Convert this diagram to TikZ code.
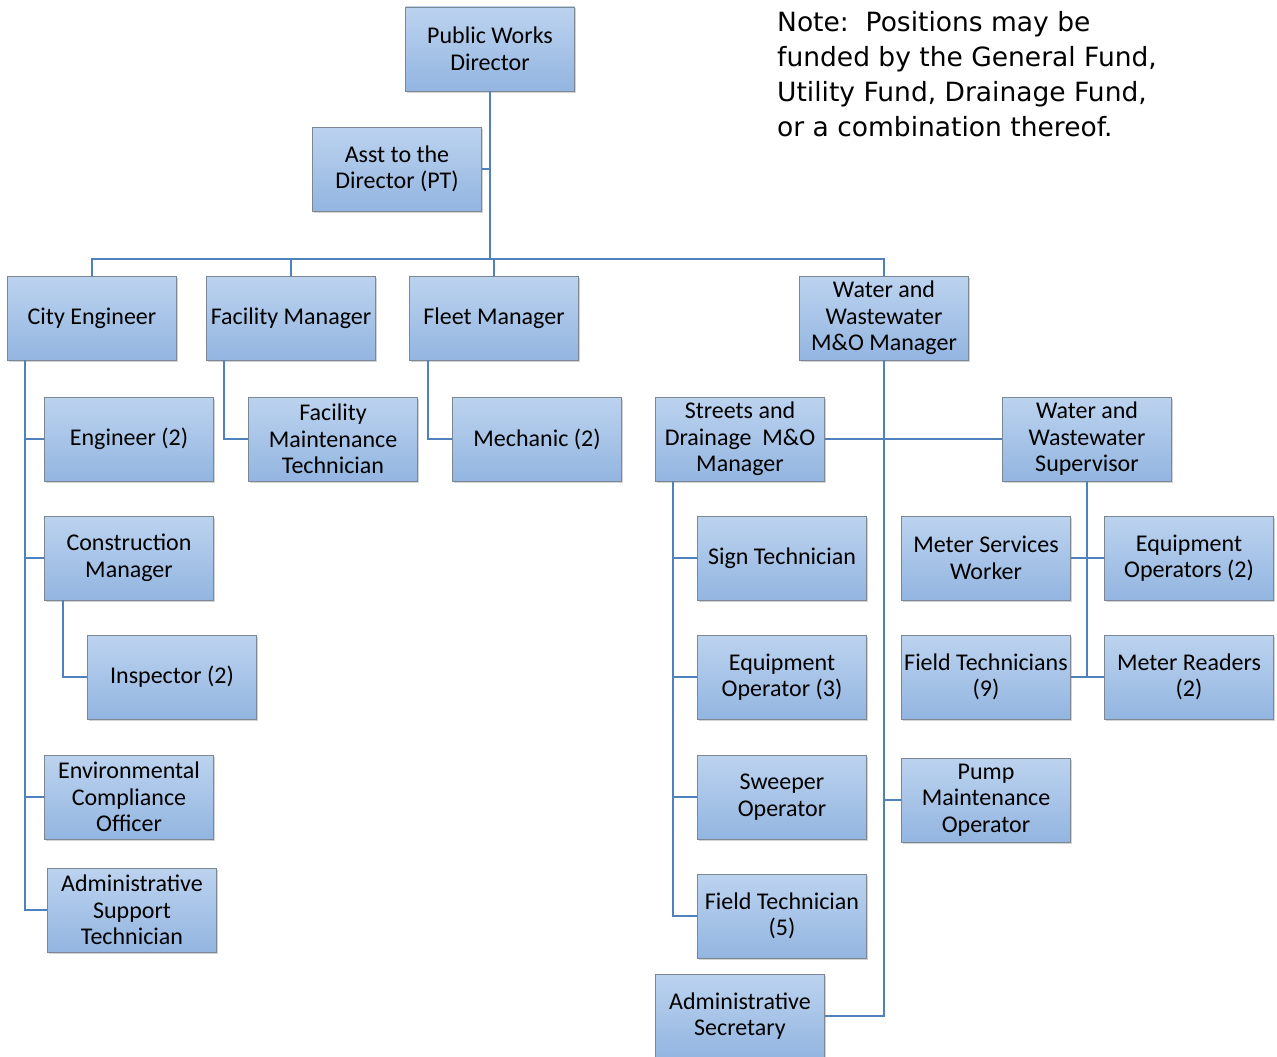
\documentclass[tikz,border=0pt]{standalone}
\usepackage{fontspec}
\setmainfont{Carlito}
\newfontfamily\notefont{DejaVu Sans}
\usetikzlibrary{shadows}
\definecolor{boxtop}{HTML}{BCD3EF}
\definecolor{boxbot}{HTML}{93B5E0}
\definecolor{boxedge}{HTML}{7C8794}
\definecolor{link}{HTML}{4F81BD}
\tikzset{
  post/.style={minimum width=169pt, minimum height=84pt, inner sep=0pt,
    align=center, top color=boxtop, bottom color=boxbot, draw=boxedge,
    line width=0.8pt, font=\fontsize{24}{26.5}\selectfont,
    drop shadow={shadow xshift=1.5pt, shadow yshift=-1.5pt, opacity=0.35, fill=gray}},
  wire/.style={draw=link, line width=2.6pt}
}
\begin{document}
\begin{tikzpicture}[x=1pt,y=-1pt]
\useasboundingbox (0,0) rectangle (1277,1057);

% top level
\node[post] (dir) at (490,49) {Public Works\\Director};
\node[post] (asst) at (397,169) {Asst to the\\Director (PT)};

% managers
\node[post] (city) at (92,318) {City Engineer};
\node[post] (fac) at (291,318) {Facility Manager};
\node[post] (fleet) at (494,318) {Fleet Manager};
\node[post] (wwm) at (884,318) {Water and\\Wastewater\\M\&O Manager};

% city engineer staff
\node[post] (eng) at (129,439) {Engineer (2)};
\node[post] (cons) at (129,558) {Construction\\Manager};
\node[post] (insp) at (172,677) {Inspector (2)};
\node[post] (env) at (129,797) {Environmental\\Compliance\\Officer};
\node[post] (ast) at (132,910) {Administrative\\Support\\Technician};

% facility and fleet staff
\node[post] (fmt) at (333,439) {Facility\\Maintenance\\Technician};
\node[post] (mech) at (537,439) {Mechanic (2)};

% streets and drainage
\node[post] (sdm) at (740,439) {Streets and\\Drainage\ \ M\&O\\Manager};
\node[post] (sign) at (782,558) {Sign Technician};
\node[post] (eqop3) at (782,677) {Equipment\\Operator (3)};
\node[post] (sweep) at (782,797) {Sweeper\\Operator};
\node[post] (ft5) at (782,916) {Field Technician\\(5)};
\node[post] (asec) at (740,1016) {Administrative\\Secretary};

% water and wastewater
\node[post] (sup) at (1087,439) {Water and\\Wastewater\\Supervisor};
\node[post] (msw) at (986,558) {Meter Services\\Worker};
\node[post] (eqop2) at (1189,558) {Equipment\\Operators (2)};
\node[post] (ft9) at (986,677) {Field Technicians\\(9)};
\node[post] (mread) at (1189,677) {Meter Readers\\(2)};
\node[post] (pump) at (986,800) {Pump\\Maintenance\\Operator};

% note
\node[anchor=north west, align=left, inner sep=0pt,
  font=\notefont\fontsize{26.5}{35}\selectfont] (note) at (777,11)
  {Note:\ \ Positions may be\\funded by the General Fund,\\Utility Fund, Drainage Fund,\\or a combination thereof.};

% connectors
\coordinate (bus) at (490,259);
\begin{scope}[on background layer/.try]
\path[wire] (dir.south) -- (bus);
\path[wire] (asst.east) -- (asst.east -| dir.south);
\path[wire] (city.north) |- (bus) -| (wwm.north);
\path[wire] (fac.north) -- (fac.north |- bus);
\path[wire] (fleet.north) -- (fleet.north |- bus);

\coordinate (cityL) at ([xshift=-67pt]city.south);
\path[wire] (cityL) |- (eng.west);
\path[wire] (cityL) |- (cons.west);
\path[wire] (cityL) |- (env.west);
\path[wire] (cityL) |- (ast.west);
\path[wire] ([xshift=-66pt]cons.south) |- (insp.west);

\path[wire] ([xshift=-67pt]fac.south) |- (fmt.west);
\path[wire] ([xshift=-66pt]fleet.south) |- (mech.west);

\path[wire] (sdm.east) -- (sup.west);
\path[wire] (wwm.south) |- (asec.east);
\path[wire] (pump.west) -- (pump.west -| wwm.south);

\coordinate (sdmL) at ([xshift=-67pt]sdm.south);
\path[wire] (sdmL) |- (sign.west);
\path[wire] (sdmL) |- (eqop3.west);
\path[wire] (sdmL) |- (sweep.west);
\path[wire] (sdmL) |- (ft5.west);

\path[wire] (sup.south) -- (sup.south |- mread.west);
\path[wire] (msw.east) -- (eqop2.west);
\path[wire] (ft9.east) -- (mread.west);
\end{scope}
\end{tikzpicture}
\end{document}
